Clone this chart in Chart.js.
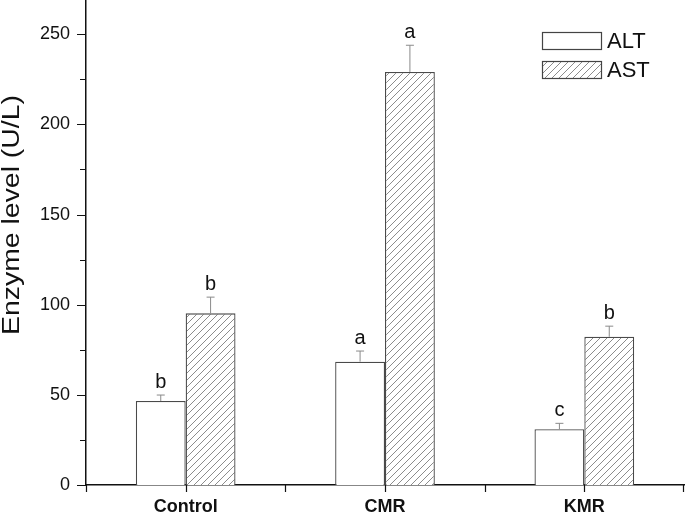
<!DOCTYPE html>
<html>
<head>
<meta charset="utf-8">
<script src="https://cdn.jsdelivr.net/npm/chart.js@4"></script>
<style>
  body { margin: 0; background: #fff; }
  #wrap { width: 685px; height: 516px; }
</style>
</head>
<body>
<div id="wrap"><canvas id="enzymeChart" width="685" height="516"></canvas></div>
<script>
// data
const groups = ['Control', 'CMR', 'KMR'];
const altValues = [46.6, 68.4, 30.9];
const altErrors = [3.3, 5.9, 3.3];
const altLetters = ['b', 'a', 'c'];
const astValues = [95.2, 229.1, 82.2];
const astErrors = [9.0, 14.8, 5.9];
const astLetters = ['b', 'a', 'b'];
const yTicks = [0, 50, 100, 150, 200, 250];

const FONT = '"Liberation Sans", Arial, sans-serif';

function makeHatch() {
    const c = document.createElement('canvas');
    c.width = 7; c.height = 7;
    const g = c.getContext('2d');
    g.fillStyle = '#fff';
    g.fillRect(0, 0, 7, 7);
    g.strokeStyle = '#8c8c8c';
    g.lineWidth = 1;
    g.beginPath();
    g.moveTo(-1, 8); g.lineTo(8, -1);
    g.moveTo(-1, 1); g.lineTo(1, -1);
    g.moveTo(6, 8); g.lineTo(8, 6);
    g.stroke();
    return g.createPattern(c, 'repeat');
}
const hatch = makeHatch();

const extras = {
    id: 'extras',
    afterDatasetsDraw(chart) {
        const ctx = chart.ctx;
        const y = chart.scales.y;
        const x = chart.scales.x;
        const area = chart.chartArea;
        const sets = [[altValues, altErrors, altLetters], [astValues, astErrors, astLetters]];

        ctx.save();
        // error bars + letters
        sets.forEach(([vals, errs, letters], di) => {
            const meta = chart.getDatasetMeta(di);
            meta.data.forEach((bar, i) => {
                const top = y.getPixelForValue(vals[i] + errs[i]);
                ctx.strokeStyle = '#8a8a8a';
                ctx.lineWidth = 1;
                ctx.beginPath();
                ctx.moveTo(bar.x, bar.y);
                ctx.lineTo(bar.x, top);
                ctx.moveTo(bar.x - 4, top);
                ctx.lineTo(bar.x + 4, top);
                ctx.stroke();
                ctx.fillStyle = '#111';
                ctx.font = '20px ' + FONT;
                ctx.textAlign = 'center';
                ctx.textBaseline = 'alphabetic';
                ctx.fillText(letters[i], bar.x, top - 7);
            });
        });

        // tick marks
        ctx.strokeStyle = '#111';
        ctx.lineWidth = 1.2;
        ctx.beginPath();
        for (let v = 0; v <= 250; v += 25) {
            const py = Math.round(y.getPixelForValue(v)) + 0.5;
            const len = v % 50 === 0 ? 9 : 6;
            ctx.moveTo(area.left - len, py);
            ctx.lineTo(area.left, py);
        }
        for (let i = 0; i < groups.length; i++) {
            const px = Math.round(x.getPixelForValue(i)) + 0.5;
            ctx.moveTo(px, area.bottom);
            ctx.lineTo(px, area.bottom + 7);
        }
        const step = (area.right - area.left) / groups.length;
        for (let i = 0; i <= groups.length; i++) {
            const px = Math.round(area.left + step * i) - (i === groups.length ? 1 : 0) + 0.5;
            ctx.moveTo(px, area.bottom);
            ctx.lineTo(px, area.bottom + 7);
        }
        ctx.stroke();

        // y title, stretched a little along its length like the original
        ctx.save();
        ctx.translate(13, 215);
        ctx.rotate(-Math.PI / 2);
        ctx.fillStyle = '#111';
        ctx.font = '23px ' + FONT;
        const title = 'Enzyme level (U/L)';
        const w = ctx.measureText(title).width;
        ctx.scale(240 / w, 1);
        ctx.textAlign = 'center';
        ctx.textBaseline = 'middle';
        ctx.fillText(title, 0, 0);
        ctx.restore();

        // legend
        const items = [['ALT', '#fff', 32], ['AST', hatch, 61]];
        items.forEach(([name, fill, top]) => {
            ctx.fillStyle = fill;
            ctx.fillRect(542, top, 59, 17);
            ctx.strokeStyle = '#444';
            ctx.lineWidth = 1.2;
            ctx.strokeRect(542.5, top + 0.5, 59, 17);
            ctx.fillStyle = '#111';
            ctx.font = '22px ' + FONT;
            ctx.textAlign = 'left';
            ctx.textBaseline = 'alphabetic';
            ctx.fillText(name, 607, top + 16);
        });
        ctx.restore();
    }
};

new Chart(document.getElementById('enzymeChart'), {
    type: 'bar',
    data: {
        labels: groups,
        datasets: [{
            label: 'ALT',
            data: altValues,
            backgroundColor: '#fff',
            borderColor: '#4a4a4a',
            borderWidth: 1.3
        }, {
            label: 'AST',
            data: astValues,
            backgroundColor: hatch,
            borderColor: '#4a4a4a',
            borderWidth: 1.3
        }]
    },
    options: {
        responsive: false,
        animation: false,
        categoryPercentage: 0.5,
        barPercentage: 1,
        layout: { padding: { top: 0, right: 1, left: 0, bottom: 0 } },
        plugins: { legend: { display: false }, tooltip: { enabled: false } },
        scales: {
            x: {
                grid: { display: false, drawTicks: false },
                border: { display: true, color: '#111', width: 1.5 },
                ticks: { color: '#111', font: { family: FONT, size: 18, weight: 'bold' }, padding: 11 },
                afterFit(s) { s.height = 31; s.paddingLeft = 0; s.paddingRight = 0; }
            },
            y: {
                min: 0,
                max: 269,
                grid: { display: false, drawTicks: false },
                border: { display: true, color: '#111', width: 1.5 },
                ticks: { stepSize: 50, color: '#111', font: { family: FONT, size: 18 }, padding: 16 },
                afterBuildTicks(s) { s.ticks = yTicks.map(v => ({ value: v })); },
                afterFit(s) { s.width = 86; s.paddingTop = 0; s.paddingBottom = 0; }
            }
        }
    },
    plugins: [extras]
});
</script>
</body>
</html>
